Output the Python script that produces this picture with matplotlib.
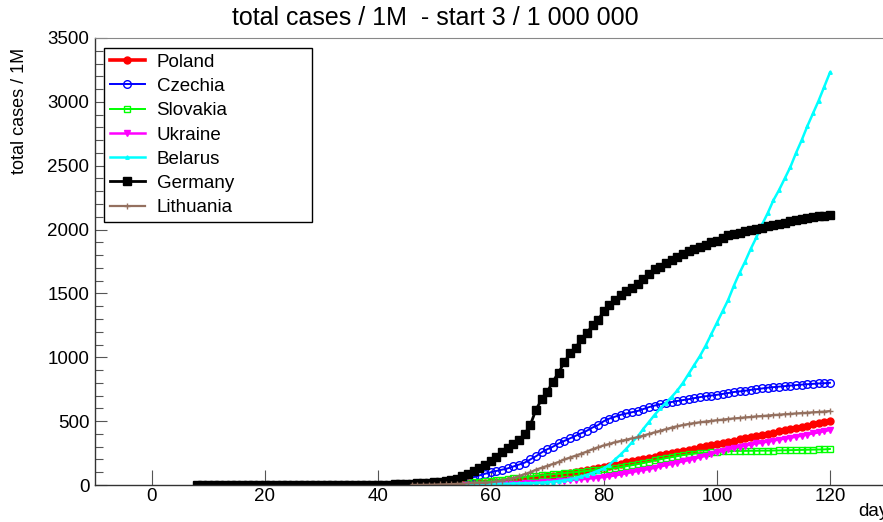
import numpy as np
import matplotlib
matplotlib.use("Agg")
import matplotlib.pyplot as plt
from matplotlib.ticker import MultipleLocator

plt.rcParams['font.family'] = ['Liberation Sans', 'DejaVu Sans']

# total cases per 1M, one value per day, starting at the given day
germany_start = 8
germany = [0.1, 0.1, 0.1, 0.1, 0.1, 0.1, 0.1, 0.2, 0.2, 0.2,
           0.2, 0.2, 0.2, 0.2, 0.2, 0.2, 0.2, 0.2, 0.2, 0.2,
           0.2, 0.2, 0.2, 0.2, 0.2, 0.2, 0.2, 0.3, 0.3, 0.6,
           0.8, 1.0,
           1.4, 2, 3, 4.5, 6,
           8, 10, 13, 16, 19, 22, 26, 32, 38, 50,
           70, 90, 110, 130, 155, 190, 220, 255, 290, 320,
           355, 400, 470, 590, 670, 730, 810, 880, 960, 1030,
           1075, 1140, 1190, 1250, 1295, 1360, 1410, 1450, 1490, 1520,
           1545, 1570, 1610, 1650, 1690, 1710, 1735, 1760, 1785, 1810,
           1830, 1845, 1865, 1880, 1900, 1910, 1935, 1955, 1965, 1975,
           1985, 1995, 2005, 2015, 2025, 2035, 2045, 2055, 2065, 2075,
           2083, 2090, 2097, 2103, 2108, 2112]

czechia_start = 42
czechia = [1, 2, 3, 4, 6, 8, 10, 12, 14, 16,
           19, 23, 30, 40, 52, 62, 75, 88, 100, 110,
           120, 130, 145, 160, 175, 200, 225, 255, 280, 300,
           325, 345, 365, 385, 405, 425, 450, 470, 500, 520,
           535, 550, 560, 570, 580, 595, 610, 622, 632, 640,
           650, 658, 665, 672, 680, 688, 695, 700, 706, 713,
           720, 728, 733, 738, 745, 750, 756, 762, 766, 770,
           774, 778, 782, 786, 789, 792, 795, 797, 800]

poland_start = 45
poland = [1, 1.5, 2, 2.5, 3, 4, 5, 6, 7, 9,
          10, 12, 14, 16, 18, 20, 22, 25, 29, 33,
          37, 42, 48, 55, 62, 68, 74, 80, 87, 94,
          101, 108, 117, 125, 134, 143, 151, 160, 168, 177,
          186, 195, 204, 213, 222, 231, 240, 249, 258, 267,
          276, 285, 294, 303, 312, 321, 330, 339, 348, 357,
          366, 375, 384, 393, 402, 411, 420, 429, 438, 447,
          456, 465, 474, 483, 492, 500]

slovakia_start = 47
slovakia = [1, 2, 3, 5, 6, 8, 10, 12, 14, 16,
            20, 24, 28, 33, 38, 43, 48, 53, 58, 62,
            67, 72, 76, 80, 84, 88, 93, 97, 101, 105,
            110, 115, 120, 124, 128, 133, 140, 147, 155, 163,
            172, 182, 192, 201, 210, 218, 226, 234, 240, 245,
            250, 254, 258, 261, 263, 265, 266, 267, 267, 268,
            268, 269, 269, 270, 271, 272, 273, 274, 275, 276,
            277, 278, 279, 282]

ukraine_start = 50
ukraine = [0.3, 0.4, 0.5, 0.6, 0.8, 1, 1.2, 1.5, 2, 2.5,
           3, 4, 5, 6, 8, 10, 12, 14, 17, 20,
           22, 26, 30, 34, 38, 42, 45, 49, 53, 58,
           62, 68, 75, 83, 92, 101, 110, 117, 125, 135,
           145, 155, 165, 175, 185, 195, 205, 218, 230, 243,
           255, 268, 280, 290, 300, 309, 317, 325, 332, 340,
           348, 356, 363, 370, 378, 386, 395, 404, 412, 421,
           431]

belarus_start = 40
belarus = [0.3, 0.3, 0.4, 0.4, 0.5, 0.5, 0.6, 0.7, 0.8, 1,
           1.2, 1.5, 2, 2.5, 3, 3.5, 4, 5, 6, 7,
           8, 9, 10, 11, 12, 13, 14, 15, 17, 19,
           22, 26, 31, 37, 45, 55, 67, 80, 95, 112,
           130, 160, 200, 240, 285, 335, 380, 440, 495, 550,
           600, 645, 690, 740, 800, 870, 940, 1010, 1090, 1180,
           1270, 1360, 1450, 1560, 1660, 1750, 1850, 1940, 2040, 2130,
           2230, 2310, 2400, 2490, 2600, 2700, 2810, 2910, 3010, 3120,
           3230]

lithuania_start = 46
lithuania = [0.5, 1, 1.5, 2, 3, 4, 5, 7, 9, 11,
             13, 15, 17, 19, 21, 28, 35, 45, 55, 70,
             85, 100, 120, 135, 150, 165, 180, 200, 215, 230,
             245, 262, 280, 295, 310, 322, 335, 345, 355, 365,
             375, 387, 400, 412, 425, 437, 450, 460, 470, 478,
             485, 491, 497, 502, 507, 512, 517, 521, 525, 529,
             533, 537, 540, 544, 548, 551, 554, 557, 560, 563,
             566, 569, 572, 575, 579]

series = [
    ("Poland", poland_start, poland, dict(color="#ff0000", marker="o", ms=5, lw=2.6)),
    ("Czechia", czechia_start, czechia, dict(color="#0000ff", marker="o", ms=5.5, lw=1.4, mfc="none", mew=1)),
    ("Slovakia", slovakia_start, slovakia, dict(color="#00ff00", marker="s", ms=5, lw=1.4, mfc="none", mew=1)),
    ("Ukraine", ukraine_start, ukraine, dict(color="#ff00ff", marker="v", ms=5, lw=1.8)),
    ("Belarus", belarus_start, belarus, dict(color="#00ffff", marker="^", ms=2.5, lw=1.8)),
    ("Germany", germany_start, germany, dict(color="#000000", marker="s", ms=5.8, lw=2)),
    ("Lithuania", lithuania_start, lithuania, dict(color="#94705f", marker="+", ms=4, lw=1.6, mew=1)),
]

W, H = 883, 522
fig = plt.figure(figsize=(W / 100, H / 100), dpi=100)
ax = fig.add_axes([95 / W, (H - 485) / H, (886.5 - 95) / W, (485 - 38) / H])

for name, start, vals, style in series:
    days = np.arange(start, start + len(vals))
    ax.plot(days, vals, label=name, **style)

ax.set_xlim(-10, 130)
ax.set_ylim(0, 3500)
ax.set_xticks(np.arange(0, 121, 20))
ax.yaxis.set_major_locator(MultipleLocator(500))
ax.yaxis.set_minor_locator(MultipleLocator(100))
ax.tick_params(axis="x", which="major", direction="in", length=10.5, width=0.8,
               color="#555555", labelsize=13.5, pad=2)
ax.tick_params(axis="y", which="major", direction="in", length=8.5, width=0.8,
               color="#555555", labelsize=13.5, pad=4)
ax.tick_params(axis="y", which="minor", direction="in", length=5.5, width=0.8,
               color="#555555")
ax.spines["top"].set_color("#888888")
ax.spines["right"].set_visible(False)
for s in ("left", "bottom"):
    ax.spines[s].set_color("#333333")
    ax.spines[s].set_linewidth(1)

fig.text(435 / W, 1 - 18 / H, "total cases / 1M  - start 3 / 1 000 000",
         ha="center", va="center", fontsize=18)
fig.text(20 / W, 1 - 48 / H, "total cases / 1M", rotation=90,
         ha="center", va="top", fontsize=13)
fig.text(858 / W, 1 - 511 / H, "day", ha="left", va="center", fontsize=13.5)

leg = ax.legend(loc="upper left", mode="expand",
                bbox_to_anchor=(104 / W, 1 - 222 / H, 208 / W, 174 / H),
                bbox_transform=fig.transFigure, borderaxespad=0,
                fancybox=False, edgecolor="black", framealpha=1,
                fontsize=13.5, handlelength=1.9, handletextpad=0.6,
                labelspacing=0.38, borderpad=0.3, numpoints=1)
leg.get_frame().set_linewidth(1)

fig.savefig("out.png", dpi=100)
